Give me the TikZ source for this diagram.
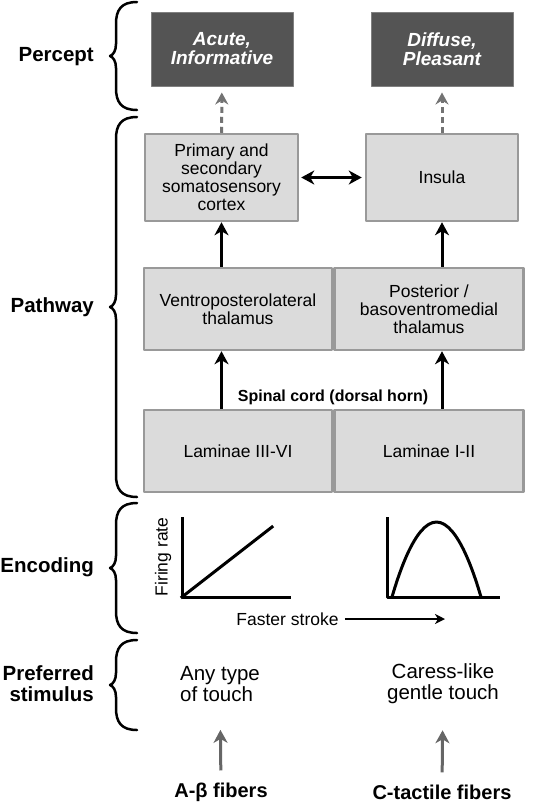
\documentclass[tikz,border=0pt]{standalone}
\usepackage{fontspec}
\setmainfont{Liberation Sans}
\usetikzlibrary{arrows.meta}
\begin{document}
\begin{tikzpicture}[x=1pt, y=-1pt, >={Stealth[length=13pt,width=14pt,inset=4pt]}, line join=round,
	percept/.style={fill=black!67, draw=black!50, line width=1pt, text=white, inner sep=0pt, minimum width=142pt, minimum height=74pt, align=center, font=\fontsize{19}{19}\selectfont\bfseries\itshape},
	area/.style={fill=black!14, draw=black!40, line width=2.5pt, inner sep=0pt, align=center, font=\fontsize{17.5}{18}\selectfont},
	tag/.style={anchor=east, inner sep=0pt, align=right, font=\fontsize{20.5}{21}\selectfont\bfseries},
	stim/.style={inner sep=0pt, font=\fontsize{20.5}{21}\selectfont},
	fiber/.style={inner sep=0pt, font=\fontsize{20}{20}\selectfont\bfseries},
	link/.style={->, line width=3pt},
	feed/.style={->, line width=3pt, black!60},
	hint/.style={->, line width=3pt, black!55, dash pattern=on 6pt off 4pt, >={Stealth[length=12pt,width=13pt,inset=4pt]}},
	axes/.style={line width=3pt, line cap=rect},
	curly/.style={line width=2.5pt, line cap=round}]
	\useasboundingbox (0,0) rectangle (540,804);
	\node[tag] (percept) at (94,57) {Percept};
	\node[tag] (pathway) at (94,307) {Pathway};
	\node[tag] (encoding) at (94,567) {Encoding};
	\node[tag] (preferred) at (94,684) {Preferred\\stimulus};
	\foreach \yt/\ym/\yb in {2/56/110, 117/307/497, 503/568/633, 640/685/730}
		\draw[curly] (137,\yt) .. controls (121,\yt) and (116,\yt+8) .. (116,\yt+22) -- (116,\ym-12) .. controls (116,\ym-5) and (113,\ym-1) .. (110,\ym) .. controls (113,\ym+1) and (116,\ym+5) .. (116,\ym+12) -- (116,\yb-22) .. controls (116,\yb-8) and (121,\yb) .. (137,\yb);
	\node[percept] (acute) at (222,49) {Acute,\\Informative};
	\node[percept] (diffuse) at (442,49) {Diffuse,\\Pleasant};
	\node[area, minimum width=153pt, minimum height=87pt] (cortex) at (221.5,177.5) {Primary and\\secondary\\somatosensory\\cortex};
	\node[area, minimum width=152pt, minimum height=87pt] (insula) at (442,177.5) {Insula};
	\node[area, minimum width=188pt, minimum height=82pt] (vpl) at (238,309) {Ventroposterolateral\\thalamus};
	\node[area, minimum width=189pt, minimum height=82pt, anchor=west] (pom) at (vpl.east) {Posterior /\\basoventromedial\\thalamus};
	\node[area, minimum width=188pt, minimum height=82pt] (lamdeep) at (238,451) {Laminae III-VI};
	\node[area, minimum width=189pt, minimum height=82pt, anchor=west] (lamsup) at (lamdeep.east) {Laminae I-II};
	\node[inner sep=0pt, font=\fontsize{16}{16}\selectfont\bfseries] (horn) at (333,397) {Spinal cord (dorsal horn)};
	\draw[hint, shorten >=6pt] (cortex) -- (acute);
	\draw[hint, shorten >=6pt] (insula) -- (diffuse);
	\draw[link, <->, shorten <=2pt, shorten >=3pt] (cortex) -- (insula);
	\draw[link] (cortex |- vpl.north) -- (cortex);
	\draw[link] (insula |- pom.north) -- (insula);
	\draw[link] (cortex |- lamdeep.north) -- (cortex |- vpl.south);
	\draw[link] (insula |- lamsup.north) -- (insula |- pom.south);
	% firing rate plots
	\draw[axes] (182,518) -- (182,597) -- (289,597);
	\draw[axes] (182,597) -- (272,527);
	\node[rotate=90, inner sep=0pt, font=\fontsize{17.5}{17.5}\selectfont] (rate) at (163,557) {Firing rate};
	\draw[axes] (387,518) -- (387,597) -- (498,597);
	\draw[axes, line cap=round] (392,597) parabola bend (436.5,522) (481,597);
	\node[inner sep=0pt, font=\fontsize{17.5}{17.5}\selectfont] (stroke) at (287.5,619) {Faster stroke};
	\coordinate (strokeend) at (445,619);
	\draw[->, line width=2pt, >={Stealth[length=10pt,width=10pt,inset=3pt]}, shorten <=6pt] (stroke) -- (strokeend);
	% stimuli and fibers
	\node[stim, align=left] (anytouch) at (220,684) {Any type\\of touch};
	\node[stim, align=center] (caress) at (443,684) {Caress-like\\gentle touch};
	\node[fiber] (abeta) at (221,792) {A-β fibers};
	\node[fiber] (ctact) at (442,792) {C-tactile fibers};
	\draw[feed, shorten <=12pt, shorten >=28pt] (abeta) -- (anytouch);
	\draw[feed, shorten <=12pt, shorten >=26pt] (ctact) -- (caress);
\end{tikzpicture}
\end{document}
